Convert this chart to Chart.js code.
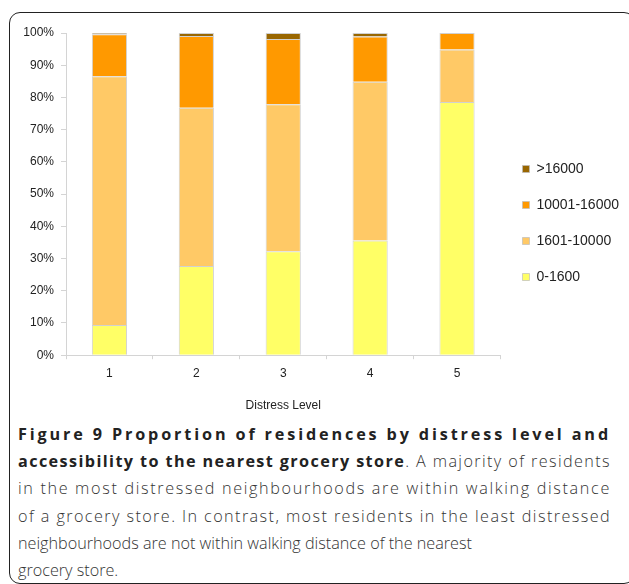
<!DOCTYPE html>
<html lang="en">

<head>
    <meta charset="UTF-8">
    <title>Figure 9 - Distress level and grocery store access</title>
    <script src="https://cdn.jsdelivr.net/npm/chart.js@4.4.1/dist/chart.umd.min.js"></script>
    <style>
        html, body { margin: 0; padding: 0; background: #fff; overflow: hidden; }
        body { width: 629px; height: 584px; position: relative; }
        .frame {
            position: absolute; left: 9px; top: 12px; width: 624px; height: 570px;
            border: 1.5px solid #222; border-radius: 11px;
        }
        .chart-box { position: absolute; left: 10px; top: 14px; width: 619px; height: 400px; }
        .caption {
            position: absolute; left: 18px; top: 421px; width: 593px;
            font-family: "Open Sans", sans-serif; font-size: 16.2px; line-height: 27.2px;
            color: #333; font-weight: 300;
        }
        .caption div { white-space: nowrap; }
        .caption .j span { display: inline-block; }
        .caption b { font-weight: 700; color: #222; }
    </style>
</head>

<body>
    <div class="frame"></div>
    <div class="chart-box">
        <canvas id="myChart"></canvas>
    </div>
    <div class="caption">
        <div class="j"><span><b>Figure 9 Proportion of residences by distress level and</b></span></div>
        <div class="j"><span><b>accessibility to the nearest grocery store</b>. A majority of residents</span></div>
        <div class="j"><span>in the most distressed neighbourhoods are within walking distance</span></div>
        <div class="j"><span>of a grocery store. In contrast, most residents in the least distressed</span></div>
        <div>neighbourhoods are not within walking distance of the nearest</div>
        <div>grocery store.</div>
    </div>

    <script>
        // stretch the justified caption lines with letter spacing, as in the print layout
        document.querySelectorAll('.caption .j span').forEach(function (el) {
            const natural = el.getBoundingClientRect().width;
            const n = el.textContent.length;
            el.style.letterSpacing = ((593 - natural) / n) + 'px';
        });

        // distress levels along the x axis
        const distressLevels = ['1', '2', '3', '4', '5'];

        // share of residences (%) by distance band to nearest grocery store
        const band0to1600 = [9.4, 27.7, 32.3, 35.6, 78.6];
        const band1601to10000 = [77.2, 49.1, 45.6, 49.3, 16.3];
        const band10001to16000 = [13.0, 22.3, 20.2, 14.0, 5.1];
        const bandOver16000 = [0.4, 0.9, 1.9, 1.1, 0.0];

        const seriesNames = ['0-1600', '1601-10000', '10001-16000', '>16000'];
        const seriesColors = ['#ffff66', '#ffc966', '#ff9900', '#996600'];

        const yTicks = [0, 10, 20, 30, 40, 50, 60, 70, 80, 90, 100];

        const tickFont = { family: 'Liberation Sans, Arial, sans-serif', size: 12 };

        let ctx = document.getElementById('myChart').getContext('2d');

        let distressChart = new Chart(ctx, {
            type: 'bar',
            data: {
                labels: distressLevels,
                datasets: [band0to1600, band1601to10000, band10001to16000, bandOver16000].map((vals, i) => ({
                    label: seriesNames[i],
                    data: vals,
                    backgroundColor: seriesColors[i],
                    borderColor: 'rgba(190,190,190,0.7)',
                    borderWidth: 1,
                    categoryPercentage: 1.0,
                    barPercentage: 0.405
                }))
            },
            options: {
                responsive: true,
                maintainAspectRatio: false,
                animation: false,
                layout: { padding: { top: 19, bottom: 1, left: 0, right: 0 } },
                scales: {
                    x: {
                        stacked: true,
                        grid: { display: true, drawOnChartArea: false, tickLength: 4, color: '#d4d4d4' },
                        border: { color: '#d4d4d4' },
                        ticks: { font: tickFont, color: '#222', padding: 7 },
                        title: {
                            display: true, text: 'Distress Level',
                            font: tickFont, color: '#222',
                            padding: { top: 11, bottom: 0 }
                        }
                    },
                    y: {
                        stacked: true,
                        min: 0,
                        max: 100,
                        afterFit: (scale) => { scale.width = 56; },
                        afterBuildTicks: (scale) => { scale.ticks = yTicks.map(v => ({ value: v })); },
                        grid: { display: true, drawOnChartArea: false, tickLength: 5, color: '#d4d4d4' },
                        border: { color: '#d4d4d4' },
                        ticks: {
                            font: tickFont, color: '#222', padding: 7,
                            callback: (v) => v + '%'
                        }
                    }
                },
                plugins: {
                    tooltip: { enabled: false },
                    legend: {
                        position: 'right',
                        reverse: true,
                        labels: {
                            font: { family: 'Liberation Sans, Arial, sans-serif', size: 14 },
                            color: '#222',
                            boxWidth: 7,
                            boxHeight: 7,
                            padding: 22
                        }
                    }
                }
            }
        });
    </script>
</body>

</html>
